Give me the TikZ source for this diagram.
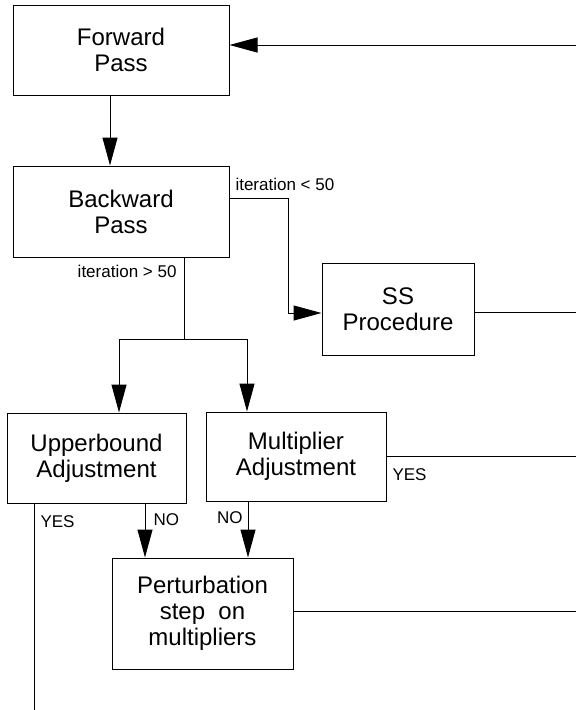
\documentclass[tikz,border=0pt]{standalone}
\usepackage{fontspec}
\setmainfont{Liberation Sans}
\usetikzlibrary{arrows.meta}

\begin{document}
\begin{tikzpicture}
  [x=1pt,y=-1pt,line width=1pt,
  box/.style={draw,align=center,inner sep=0pt,font=\fontsize{24}{26}\selectfont},
  lbl/.style={inner sep=0pt,font=\fontsize{17}{19}\selectfont},
  arr/.style={-{Triangle[length=28pt,width=15pt]}}]
  \useasboundingbox (0,0) rectangle (576,710);
  % boxes
  \node[box,minimum width=216pt,minimum height=90pt] (fwd) at (121,50) {Forward\\Pass};
  \node[box,minimum width=216pt,minimum height=91pt] (bwd) at (121,211.5) {Backward\\Pass};
  \node[box,minimum width=152pt,minimum height=92pt] (ss) at (398,309) {SS\\Procedure};
  \node[box,minimum width=179pt,minimum height=90pt] (ub) at (96.5,458) {Upperbound\\Adjustment};
  \node[box,minimum width=180pt,minimum height=89pt] (ma) at (296,456.5) {Multiplier\\Adjustment};
  \node[box,minimum width=181pt,minimum height=111pt] (pt) at (202.5,613.5) {Perturbation\\step\ \ on\\multipliers};
  % free ends
  \coordinate (back) at (576,45);
  \coordinate (split) at (184,339);
  \coordinate (bot) at (34,710);
  % connectors
  \draw[arr] (back) -- (back -| fwd.east);
  \draw[arr] ([xshift=-11pt]fwd.south) -- ([xshift=-11pt]bwd.north);
  \draw[arr] ([yshift=13.5pt]bwd.east) -- (288,198) |- ([yshift=-4pt]ss.west);
  \draw (ss.east) ++(0,3) -- (576,312);
  \draw (split |- bwd.south) -- (split);
  \draw[arr] (split) -| ([xshift=22.5pt]ub.north);
  \draw[arr] (split) -| ([xshift=-49pt]ma.north);
  \draw (bot |- ub.south) -- (bot);
  \draw[arr] ([xshift=48.5pt]ub.south) -- ([xshift=48.5pt]ub.south |- pt.north);
  \draw[arr] ([xshift=-48pt]ma.south) -- ([xshift=-48pt]ma.south |- pt.north);
  \draw (ma.east) -- (576,456.5);
  \draw ([yshift=2.5pt]pt.east) -- (576,611);
  % labels
  \node[lbl,anchor=base west] (lt) at (235,190) {iteration < 50};
  \node[lbl,anchor=base east] (gt) at (177,277) {iteration > 50};
  \node[lbl,anchor=base west] (yesma) at (392,480) {YES};
  \node[lbl,anchor=base west] (yesub) at (40,527) {YES};
  \node[lbl,anchor=base west] (noub) at (153,525) {NO};
  \node[lbl,anchor=base east] (noma) at (243,523) {NO};
\end{tikzpicture}
\end{document}
